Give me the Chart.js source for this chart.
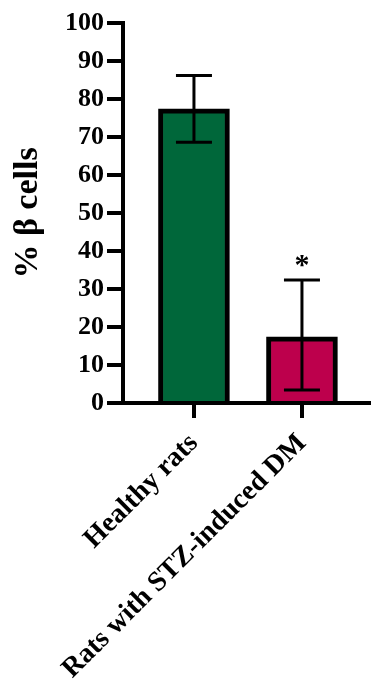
<!DOCTYPE html>
<html>
<head>
<meta charset="utf-8">
<script src="https://cdn.jsdelivr.net/npm/chart.js@4.4.1/dist/chart.umd.min.js"></script>
<style>
  html, body { margin: 0; padding: 0; background: #fff; }
  #wrap { width: 371px; height: 682px; }
</style>
</head>
<body>
<div id="wrap"><canvas id="c"></canvas></div>
<script>
// Groups and their mean percentage of beta cells, with error bar ends
const categories = ['Healthy rats', 'Rats with STZ-induced DM'];
const means = [77.4, 17.4];
const errUpper = [86.2, 32.4];
const errLower = [68.6, 3.4];
const marks = ['', '*'];
const yTicks = [0, 10, 20, 30, 40, 50, 60, 70, 80, 90, 100];
const barColors = ['#00673a', '#bd004c'];

const FONT = "'Liberation Serif', 'Times New Roman', serif";

// Error bars with caps, plus significance marks above them
const errorBars = {
  id: 'errorBars',
  afterDatasetsDraw(chart) {
    const { ctx, scales: { x, y } } = chart;
    ctx.save();
    ctx.strokeStyle = '#000';
    ctx.fillStyle = '#000';
    ctx.lineWidth = 3;
    ctx.lineCap = 'butt';
    means.forEach((m, i) => {
      const px = x.getPixelForValue(i);
      const top = y.getPixelForValue(errUpper[i]);
      const bot = y.getPixelForValue(errLower[i]);
      const half = 18;
      ctx.beginPath();
      ctx.moveTo(px, top); ctx.lineTo(px, bot);
      ctx.moveTo(px - half, top); ctx.lineTo(px + half, top);
      ctx.moveTo(px - half, bot); ctx.lineTo(px + half, bot);
      ctx.stroke();
      if (marks[i]) {
        ctx.font = 'bold 30px ' + FONT;
        ctx.textAlign = 'center';
        ctx.textBaseline = 'alphabetic';
        ctx.fillText(marks[i], px, top - 6);
      }
    });
    ctx.restore();
  }
};

new Chart(document.getElementById('c'), {
  type: 'bar',
  data: {
    datasets: [{
      data: means.map((v, i) => ({ x: i, y: v })),
      backgroundColor: barColors,
      borderColor: '#000',
      borderWidth: 5,
      barThickness: 71
    }]
  },
  options: {
    responsive: true,
    maintainAspectRatio: false,
    animation: false,
    layout: { padding: { top: 23, right: 1, left: 0, bottom: 0 } },
    plugins: { legend: { display: false }, tooltip: { enabled: false } },
    scales: {
      x: {
        type: 'linear',
        offset: false,
        min: -0.657,
        max: 1.63,
        afterFit: s => { s.height = 279; },
        afterBuildTicks: s => { s.ticks = categories.map((_, i) => ({ value: i })); },
        grid: { display: true, offset: false, drawOnChartArea: false, drawTicks: true, tickLength: 15, lineWidth: 4, color: '#000' },
        border: { display: true, color: '#000', width: 4, z: 1 },
        ticks: {
          autoSkip: false,
          minRotation: 45,
          maxRotation: 45,
          padding: 9,
          color: '#000',
          font: { family: FONT, size: 28, weight: 'bold' },
          callback: v => categories[v]
        }
      },
      y: {
        min: 0,
        max: 100,
        afterFit: s => { s.width = 123; },
        afterBuildTicks: s => { s.ticks = yTicks.map(v => ({ value: v })); },
        grid: { display: true, drawOnChartArea: false, drawTicks: true, tickLength: 16, lineWidth: 4, color: '#000' },
        border: { display: true, color: '#000', width: 4, z: 1 },
        ticks: {
          padding: 3,
          color: '#000',
          font: { family: FONT, size: 26, weight: 'bold' }
        },
        title: {
          display: true,
          text: '% β cells',
          color: '#000',
          padding: { top: 8, bottom: 0 },
          font: { family: FONT, size: 34, weight: 'bold' }
        }
      }
    }
  },
  plugins: [errorBars]
});
</script>
</body>
</html>
